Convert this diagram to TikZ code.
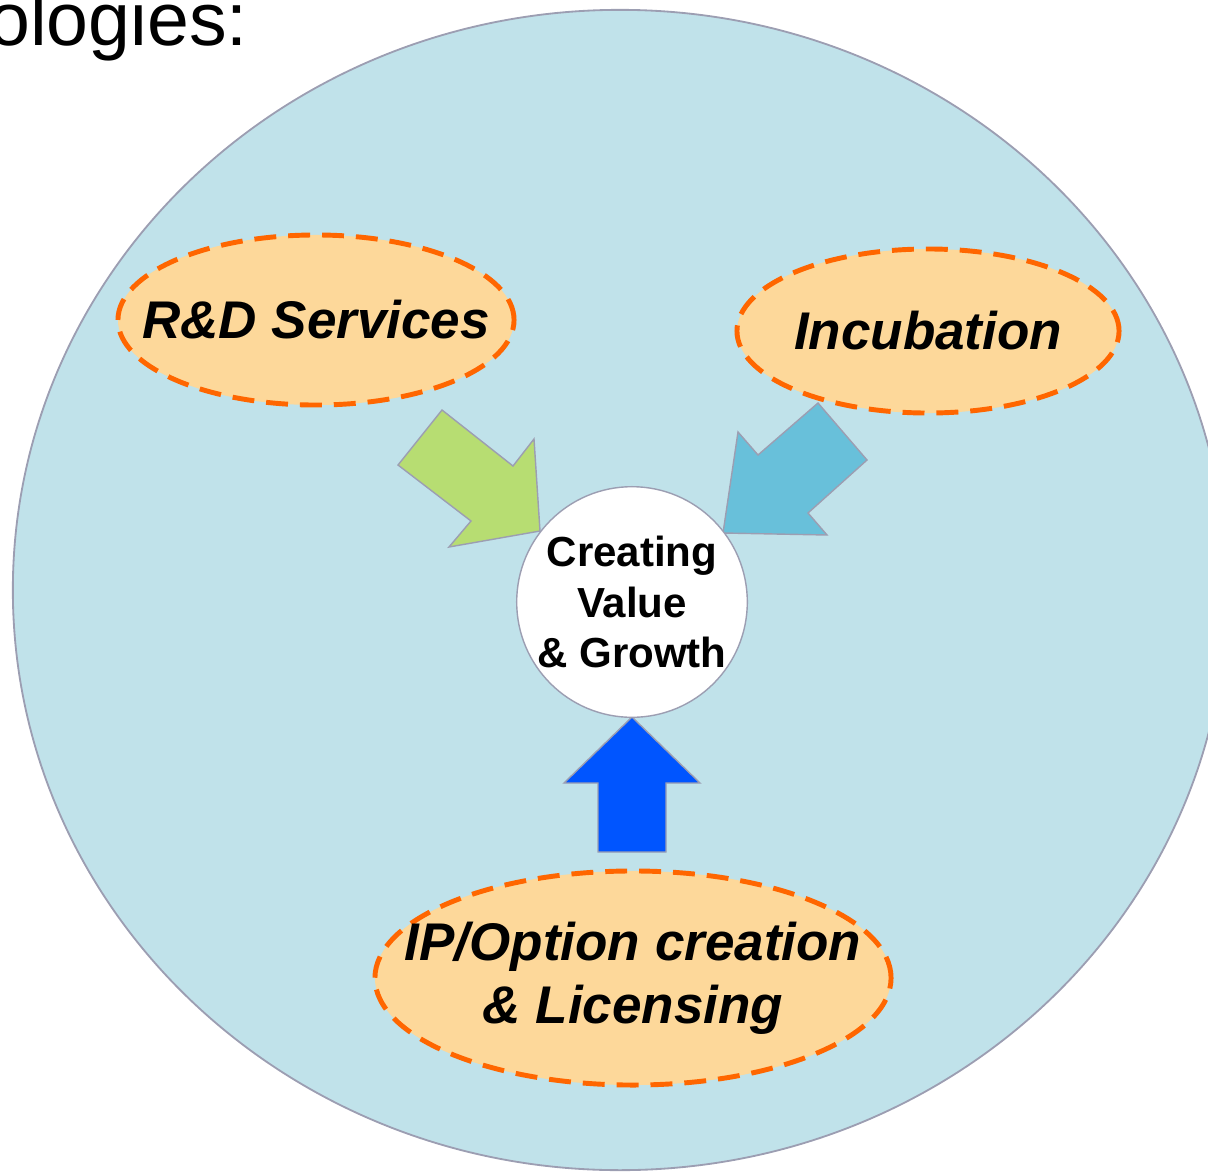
\documentclass[tikz,border=0pt]{standalone}
\usepackage{fontspec}
\setmainfont{Liberation Sans}
\usepackage{tikz}
\usetikzlibrary{shapes.geometric}
\definecolor{skyfill}{HTML}{C0E2EA}
\definecolor{slate}{HTML}{9C9EB2}
\definecolor{peach}{HTML}{FDD89A}
\definecolor{flame}{HTML}{FF6600}
\definecolor{leaf}{HTML}{B7DD72}
\definecolor{teal}{HTML}{68C0DA}
\definecolor{royal}{HTML}{0055FF}
\tikzstyle{cframe}  = [fill=skyfill, draw=slate, line width=1.3pt]
\tikzstyle{cgreen}  = [fill=leaf,  draw=slate, line width=1pt]
\tikzstyle{ccyan}   = [fill=teal,  draw=slate, line width=1pt]
\tikzstyle{cblue}   = [fill=royal, draw=slate, line width=1pt]
\tikzstyle{ccore}   = [circle, fill=white, draw=slate, line width=1pt, inner sep=0pt,
                       minimum size=5.7cm, align=center,
                       font=\fontsize{29.9}{35.9}\selectfont\bfseries]
\tikzstyle{cbubble} = [ellipse, fill=peach, draw=flame, line width=3.5pt,
                       dash pattern=on 15.6pt off 8.5pt, inner sep=0pt]
\tikzstyle{cword}   = [inner sep=0pt, align=center,
                       font=\fontsize{37.7}{44.8}\selectfont\bfseries\itshape]

\begin{document}
\begin{tikzpicture}[x=0.025cm, y=-0.025cm]
     \useasboundingbox (0,0) rectangle (1208,1171);
     \clip (0,0) rectangle (1208,1171);
     \node[anchor=base east, inner sep=0pt, font=\fontsize{53.5}{64}\selectfont]
       (heading) at (248,45) {Technologies:};
     \filldraw[cframe]
       (620,590) ellipse [x radius=15.175cm, y radius=14.5cm];
% block arrows
     \filldraw[cgreen]
       (398,465) -- (442,410) -- (513,466) -- (534,439) -- (540,531) -- (449,547) -- (471,521) -- cycle;
     \filldraw[ccyan]
       (818,403) -- (867,460) -- (808,513) -- (827,535) -- (723,533) -- (738,432) -- (758,455) -- cycle;
     \filldraw[cblue]
       (632,717) -- (700,783) -- (666,783) -- (666,852) -- (598,852) -- (598,783) -- (564,783) -- cycle;
     \node[ccore] (value) at (632,602) {Creating\\Value\\\& Growth};
% bubbles, text set on top
     \node[cbubble, minimum width=9.9cm, minimum height=4.25cm] (rnd) at (316,320) {};
     \node[cword] (rndtxt) at (rnd) {R\&D Services};
     \node[cbubble, minimum width=9.55cm, minimum height=4.1cm] (incub) at (928,331) {};
     \node[cword] (incubtxt) at (incub) {Incubation};
     \node[cbubble, minimum width=12.9cm, minimum height=5.35cm] (iplic) at (633,978) {};
     \node[cword] (iplictxt) at (iplic) {IP/Option creation\\\& Licensing};
    \end{tikzpicture}
\end{document}
